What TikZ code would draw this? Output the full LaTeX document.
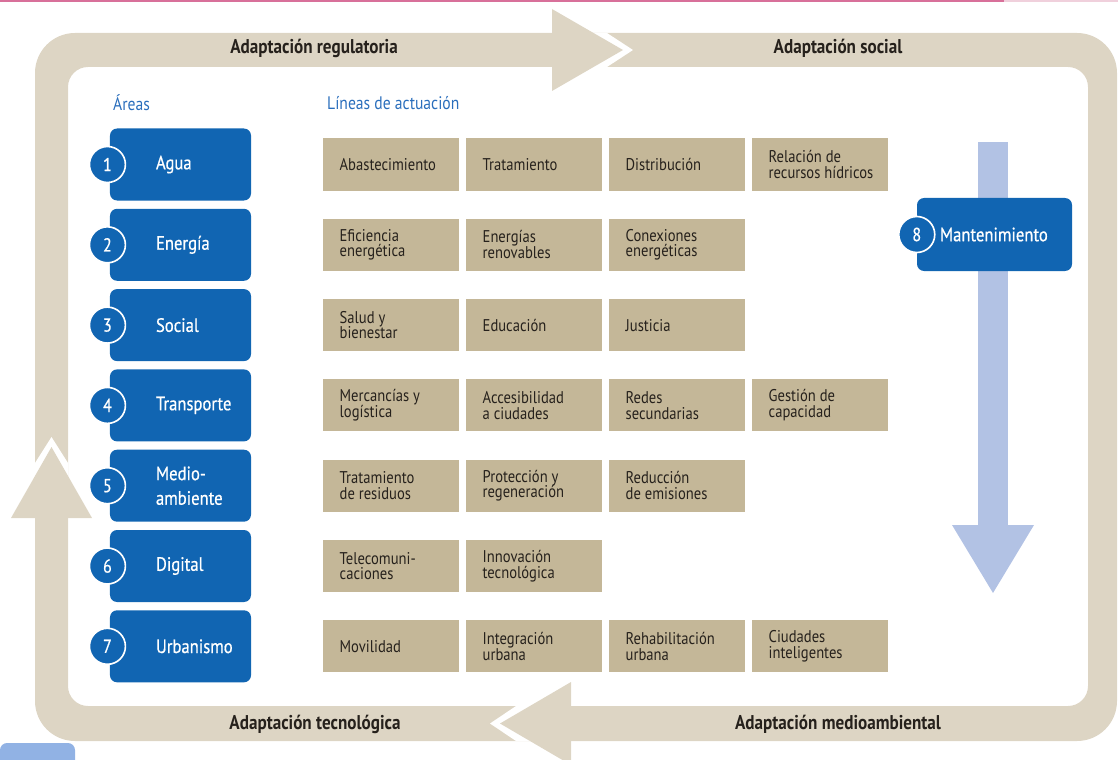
\documentclass[tikz,border=0pt]{standalone}
\usepackage{fontspec}
\setmainfont{PT Sans}[FakeStretch=0.86]
\newfontfamily\areafont{PT Sans}[FakeStretch=0.86, FakeBold=0.6]
\usetikzlibrary{positioning}
\usepackage{xcolor}
\definecolor{band}{RGB}{221,213,196}
\definecolor{cell}{RGB}{196,183,152}
\definecolor{areablue}{RGB}{17,101,178}
\definecolor{flowblue}{RGB}{178,194,228}
\definecolor{headblue}{RGB}{42,110,188}
\definecolor{ink}{RGB}{38,33,28}
\definecolor{rule}{RGB}{216,112,154}
\definecolor{rulelight}{RGB}{240,208,220}
\definecolor{patch}{RGB}{145,178,228}

\begin{document}
\begin{tikzpicture}[x=0.03cm,y=-0.03cm,
  areabox/.style={fill=areablue, rounded corners=6pt, minimum width=4.23cm, minimum height=2.16cm},
  areanum/.style={circle, fill=areablue, draw=white, line width=1.4pt, minimum size=1.08cm, inner sep=0pt, text=white, font=\areafont\fontsize{16}{16}\selectfont},
  arealabel/.style={inner sep=0pt, text=white, align=left, font=\areafont\fontsize{16.5}{21}\selectfont},
  cellbox/.style={fill=cell, minimum width=4.08cm, minimum height=1.56cm, inner sep=0pt},
  celltext/.style={inner sep=0pt, text=ink, align=left, font=\fontsize{14.5}{13.5}\selectfont},
  looptext/.style={text=ink, font=\fontsize{17}{20}\selectfont\bfseries},
  heading/.style={inner sep=0pt, text=headblue, font=\fontsize{15.5}{18}\selectfont}]
\useasboundingbox (0,0) rectangle (1118,760);
\fill[rule] (0,0) rectangle (1004,2.5);
\fill[rulelight] (1004,0) rectangle (1118,2.5);
\fill[patch] (0,760) [rounded corners=6pt] -- (0,743) -- (75,743) [sharp corners] -- (75,760) -- cycle;

% the adaptation loop
\fill[band, even odd rule, rounded corners=1.2cm] (35,33) rectangle (1117,741) [rounded corners=0.6cm] (68,67) rectangle (1088,706);
\fill[white] (560,33) -- (607,33) -- (633,50) -- (607,67) -- (560,67) -- cycle;
\fill[band] (552,9) -- (623,50) -- (552,91) -- cycle;
\fill[white] (563,706) -- (516,706) -- (490,723.5) -- (516,741) -- (563,741) -- cycle;
\fill[band] (571,682) -- (500,723.5) -- (571,765) -- cycle;
\fill[white] (35,510) -- (35,463) -- (51.5,437) -- (68,463) -- (68,510) -- cycle;
\fill[band] (11,518) -- (51.5,447) -- (92,518) -- cycle;
\node[looptext] (reg) at (314,48) {Adaptación regulatoria};
\node[looptext] (soc) at (838,48) {Adaptación social};
\node[looptext] (tec) at (315,724) {Adaptación tecnológica};
\node[looptext] (med) at (838,724) {Adaptación medioambiental};

\node[heading, anchor=west] (areas) at (113,103) {Áreas};
\node[heading, anchor=west] (lineas) at (327,103) {Líneas de actuación};

% maintenance
\fill[flowblue] (978,142) rectangle (1008,526);
\fill[flowblue] (952,525) -- (993,593) -- (1034,525) -- cycle;
\node[areabox, minimum width=4.65cm, minimum height=2.19cm] (mant) at (994.5,234.5) {};
\node[areanum] (num8) at (mant.west) {8};
\node[arealabel, right=0.69cm of mant.west] (lab8) {Mantenimiento};

\foreach \name [count=\i] in {Agua,Energía,Social,Transporte,{Medio-\\ambiente},Digital,Urbanismo}{
  \pgfmathsetmacro{\y}{164.5+(\i-1)*80.3}
  \node[areabox] (area\i) at (180.5,\y) {};
  \node[areanum] (num\i) at ([xshift=-2]area\i.west) {\i};
  \node[arealabel, right=1.38cm of area\i.west] (lab\i) {\name};
}

\foreach \r/\items in {
  1/{Abastecimiento,Tratamiento,Distribución,{Relación de\\recursos hídricos}},
  2/{{Eficiencia\\energética},{Energías\\renovables},{Conexiones\\energéticas}},
  3/{{Salud y\\bienestar},Educación,Justicia},
  4/{{Mercancías y\\logística},{Accesibilidad\\a ciudades},{Redes\\secundarias},{Gestión de\\capacidad}},
  5/{{Tratamiento\\de residuos},{Protección y\\regeneración},{Reducción\\de emisiones}},
  6/{{Telecomuni-\\caciones},{Innovación\\tecnológica}},
  7/{Movilidad,{Integración\\urbana},{Rehabilitación\\urbana},{Ciudades\\inteligentes}}}{
  \pgfmathsetmacro{\y}{164.5+(\r-1)*80.3}
  \foreach \t [count=\c] in \items {
    \pgfmathsetmacro{\x}{391+(\c-1)*143}
    \node[cellbox] (cell\r\c) at (\x,\y) {};
    \node[celltext, right=0.5cm of cell\r\c.west] (txt\r\c) {\t};
  }
}
\end{tikzpicture}
\end{document}
